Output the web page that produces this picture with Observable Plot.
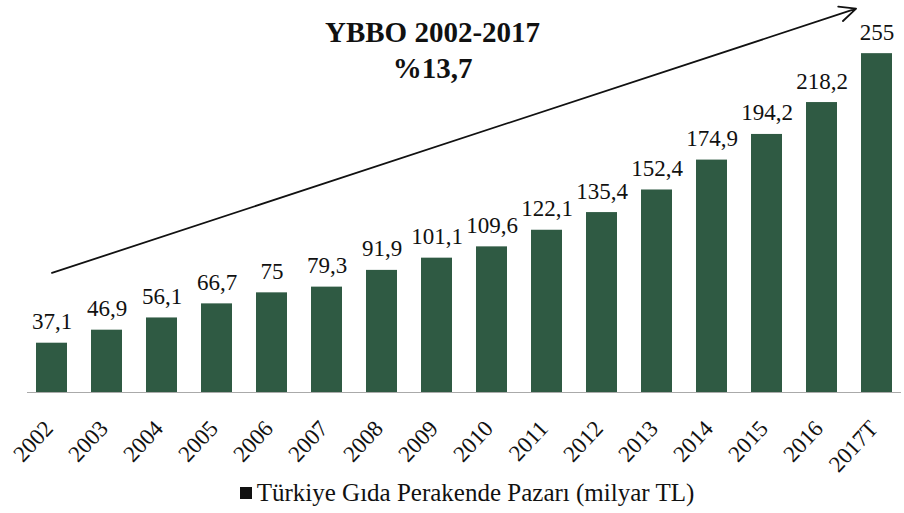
<!DOCTYPE html>
<html>
<head>
<meta charset="utf-8">
<script src="https://cdn.jsdelivr.net/npm/d3@7"></script>
<script src="https://cdn.jsdelivr.net/npm/@observablehq/plot@0.6"></script>
<style>
  body { margin: 0; background: #fff; font-family: "Liberation Serif", "Times New Roman", Times, "DejaVu Serif", serif; }
  #chart { width: 904px; }
  #legend { width: 904px; height: 35px; display: flex; justify-content: center; align-items: center;
            font-size: 25px; color: #111; box-sizing: border-box; padding-left: 30px; padding-bottom: 6px; }
  #legend .sw { display: inline-block; width: 12px; height: 12px; background: #111; margin-right: 5px; }
  #chart svg text { font-family: "Liberation Serif", "Times New Roman", Times, "DejaVu Serif", serif; }
</style>
</head>
<body>
<div id="chart"></div>
<div id="legend"><span class="sw"></span><span id="legend-text"></span></div>
<script>
const years = ["2002", "2003", "2004", "2005", "2006", "2007", "2008", "2009", "2010", "2011", "2012", "2013", "2014", "2015", "2016", "2017T"];
const values = [37.1, 46.9, 56.1, 66.7, 75, 79.3, 91.9, 101.1, 109.6, 122.1, 135.4, 152.4, 174.9, 194.2, 218.2, 255];
const titleLines = ["YBBO 2002-2017", "%13,7"];
const seriesName = "Türkiye Gıda Perakende Pazarı (milyar TL)";
const trendFrom = { year: "2002", value: 90 };
const trendTo = { year: "2017T", value: 294 };

const data = years.map((year, i) => ({ year, value: values[i] }));
const fmt = v => String(v).replace(".", ",");
const serif = "\"Liberation Serif\", \"Times New Roman\", Times, \"DejaVu Serif\", serif";

const chart = Plot.plot({
  width: 904,
  height: 478,
  marginTop: 0,
  marginLeft: 27,
  marginRight: 3,
  marginBottom: 86,
  style: { fontFamily: serif, fontSize: "23px", background: "white", color: "#111" },
  x: { domain: years, padding: 0.43, paddingOuter: 0.1, label: null },
  y: { domain: [0, 295], axis: null },
  marks: [
    Plot.axisX({ tickSize: 0, tickRotate: -47, tickPadding: 32, fontSize: 23, dx: -3, label: null }),
    Plot.ruleY([0], { stroke: "#aaa", strokeWidth: 1 }),
    Plot.barY(data, { x: "year", y: "value", fill: "#2f5a43" }),
    Plot.text(data, { x: "year", y: "value", text: d => fmt(d.value), lineAnchor: "bottom", dy: -14, fontSize: 23, fill: "#111" }),
    Plot.arrow([{ a: trendFrom, b: trendTo }], {
      x1: d => d.a.year, y1: d => d.a.value, x2: d => d.b.year, y2: d => d.b.value,
      stroke: "#111", strokeWidth: 1.8, headLength: 15, headAngle: 50, insetEnd: 22
    }),
    Plot.text([titleLines.join("\n")], {
      frameAnchor: "top", dx: -32, dy: 16, lineAnchor: "top", fontSize: 29, fontWeight: "bold", lineHeight: 1.24, fill: "#111"
    })
  ]
});
document.getElementById("chart").append(chart);
document.getElementById("legend-text").textContent = seriesName;
</script>
</body>
</html>
